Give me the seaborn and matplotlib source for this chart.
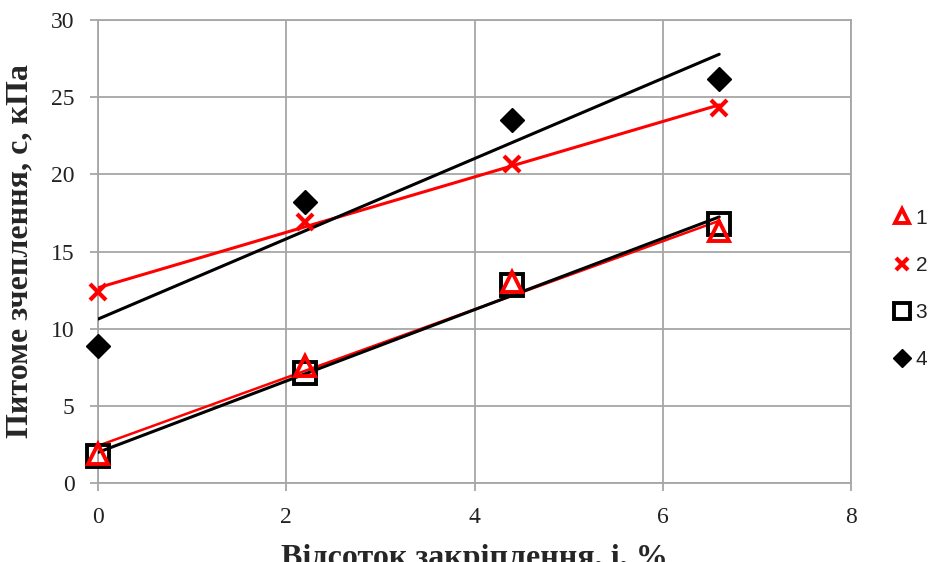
import matplotlib
matplotlib.use("Agg")
import matplotlib.pyplot as plt
from matplotlib.lines import Line2D
import numpy as np
import pandas as pd
import seaborn as sns

# Percent of stabilisation, i, %
x_vals = [0.0, 2.2, 4.4, 6.6]

# Specific cohesion c, kPa, for four soil series
c_series1 = [1.9, 7.6, 13.0, 16.3]
c_series2 = [12.4, 16.9, 20.7, 24.3]
c_series3 = [1.75, 7.1, 12.8, 16.8]
c_series4 = [8.9, 18.2, 23.5, 26.2]

series_labels = ["1", "2", "3", "4"]

x_ticks = [0, 2, 4, 6, 8]
y_ticks = [0, 5, 10, 15, 20, 25, 30]

sns.set_theme(style="white")
plt.rcParams["font.family"] = ["Liberation Serif", "DejaVu Serif"]

fig = plt.figure(figsize=(9.32, 5.62), dpi=100)
ax = fig.add_axes([98 / 932, 1 - 483 / 562, (851 - 98) / 932, (483 - 20) / 562])

grid_col = "#a6a6a6"
red = "#ff0000"
black = "#000000"

styles = [
    dict(y=c_series1, color=red, marker="^", face="none", ms=14, mew=2.8, lw=1.8),
    dict(y=c_series2, color=red, marker="x", face=red, ms=11, mew=3.0, lw=2.2),
    dict(y=c_series3, color=black, marker="s", face="none", ms=16, mew=2.8, lw=2.2),
    dict(y=c_series4, color=black, marker="D", face=black, ms=12, mew=1.0, lw=2.2),
]

# Linear trend lines (least squares over the data range)
order = [0, 2, 1, 3]
for i in order:
    st = styles[i]
    df = pd.DataFrame({"x": x_vals, "y": st["y"]})
    sns.regplot(data=df, x="x", y="y", ax=ax, scatter=False, ci=None,
                color=st["color"], line_kws=dict(lw=st["lw"], zorder=3))

# Measured points
handles = []
for i, st in enumerate(styles):
    df = pd.DataFrame({"x": x_vals, "y": st["y"]})
    ax.plot(df["x"], df["y"], linestyle="none", marker=st["marker"],
            markersize=st["ms"], markeredgewidth=st["mew"],
            markeredgecolor=st["color"], markerfacecolor=st["face"],
            clip_on=False, zorder=5 if i != 0 else 6)
    handles.append(Line2D([], [], linestyle="none", marker=st["marker"],
                          markersize=st["ms"] * 0.75, markeredgewidth=st["mew"],
                          markeredgecolor=st["color"], markerfacecolor=st["face"]))

ax.set_xlim(0, 8)
ax.set_ylim(0, 30)
ax.set_xticks(x_ticks)
ax.set_yticks(y_ticks)
ax.grid(True, color=grid_col, lw=1.3)
ax.set_axisbelow(True)
for sp in ax.spines.values():
    sp.set_color(grid_col)
    sp.set_linewidth(1.3)
ax.tick_params(axis="both", which="major", direction="out", length=6,
               width=1.3, color=grid_col, labelsize=17, pad=11,
               labelcolor="#222222", bottom=True, left=True)

ax.set_xlabel("Відсоток закріплення, і, %", fontsize=23, fontweight="bold",
              labelpad=12)
ax.set_ylabel("Питоме зчеплення, с, кПа", fontsize=23, fontweight="bold",
              labelpad=12)

leg = fig.legend(handles, series_labels, loc="upper left",
                 bbox_to_anchor=(875 / 932, 1 - 190 / 562), frameon=False,
                 handlelength=0.8, handletextpad=0.25, labelspacing=1.35,
                 prop={"family": "Liberation Sans", "size": 15})
for t in leg.get_texts():
    t.set_color("#222222")

fig.savefig("out.png", dpi=100)
